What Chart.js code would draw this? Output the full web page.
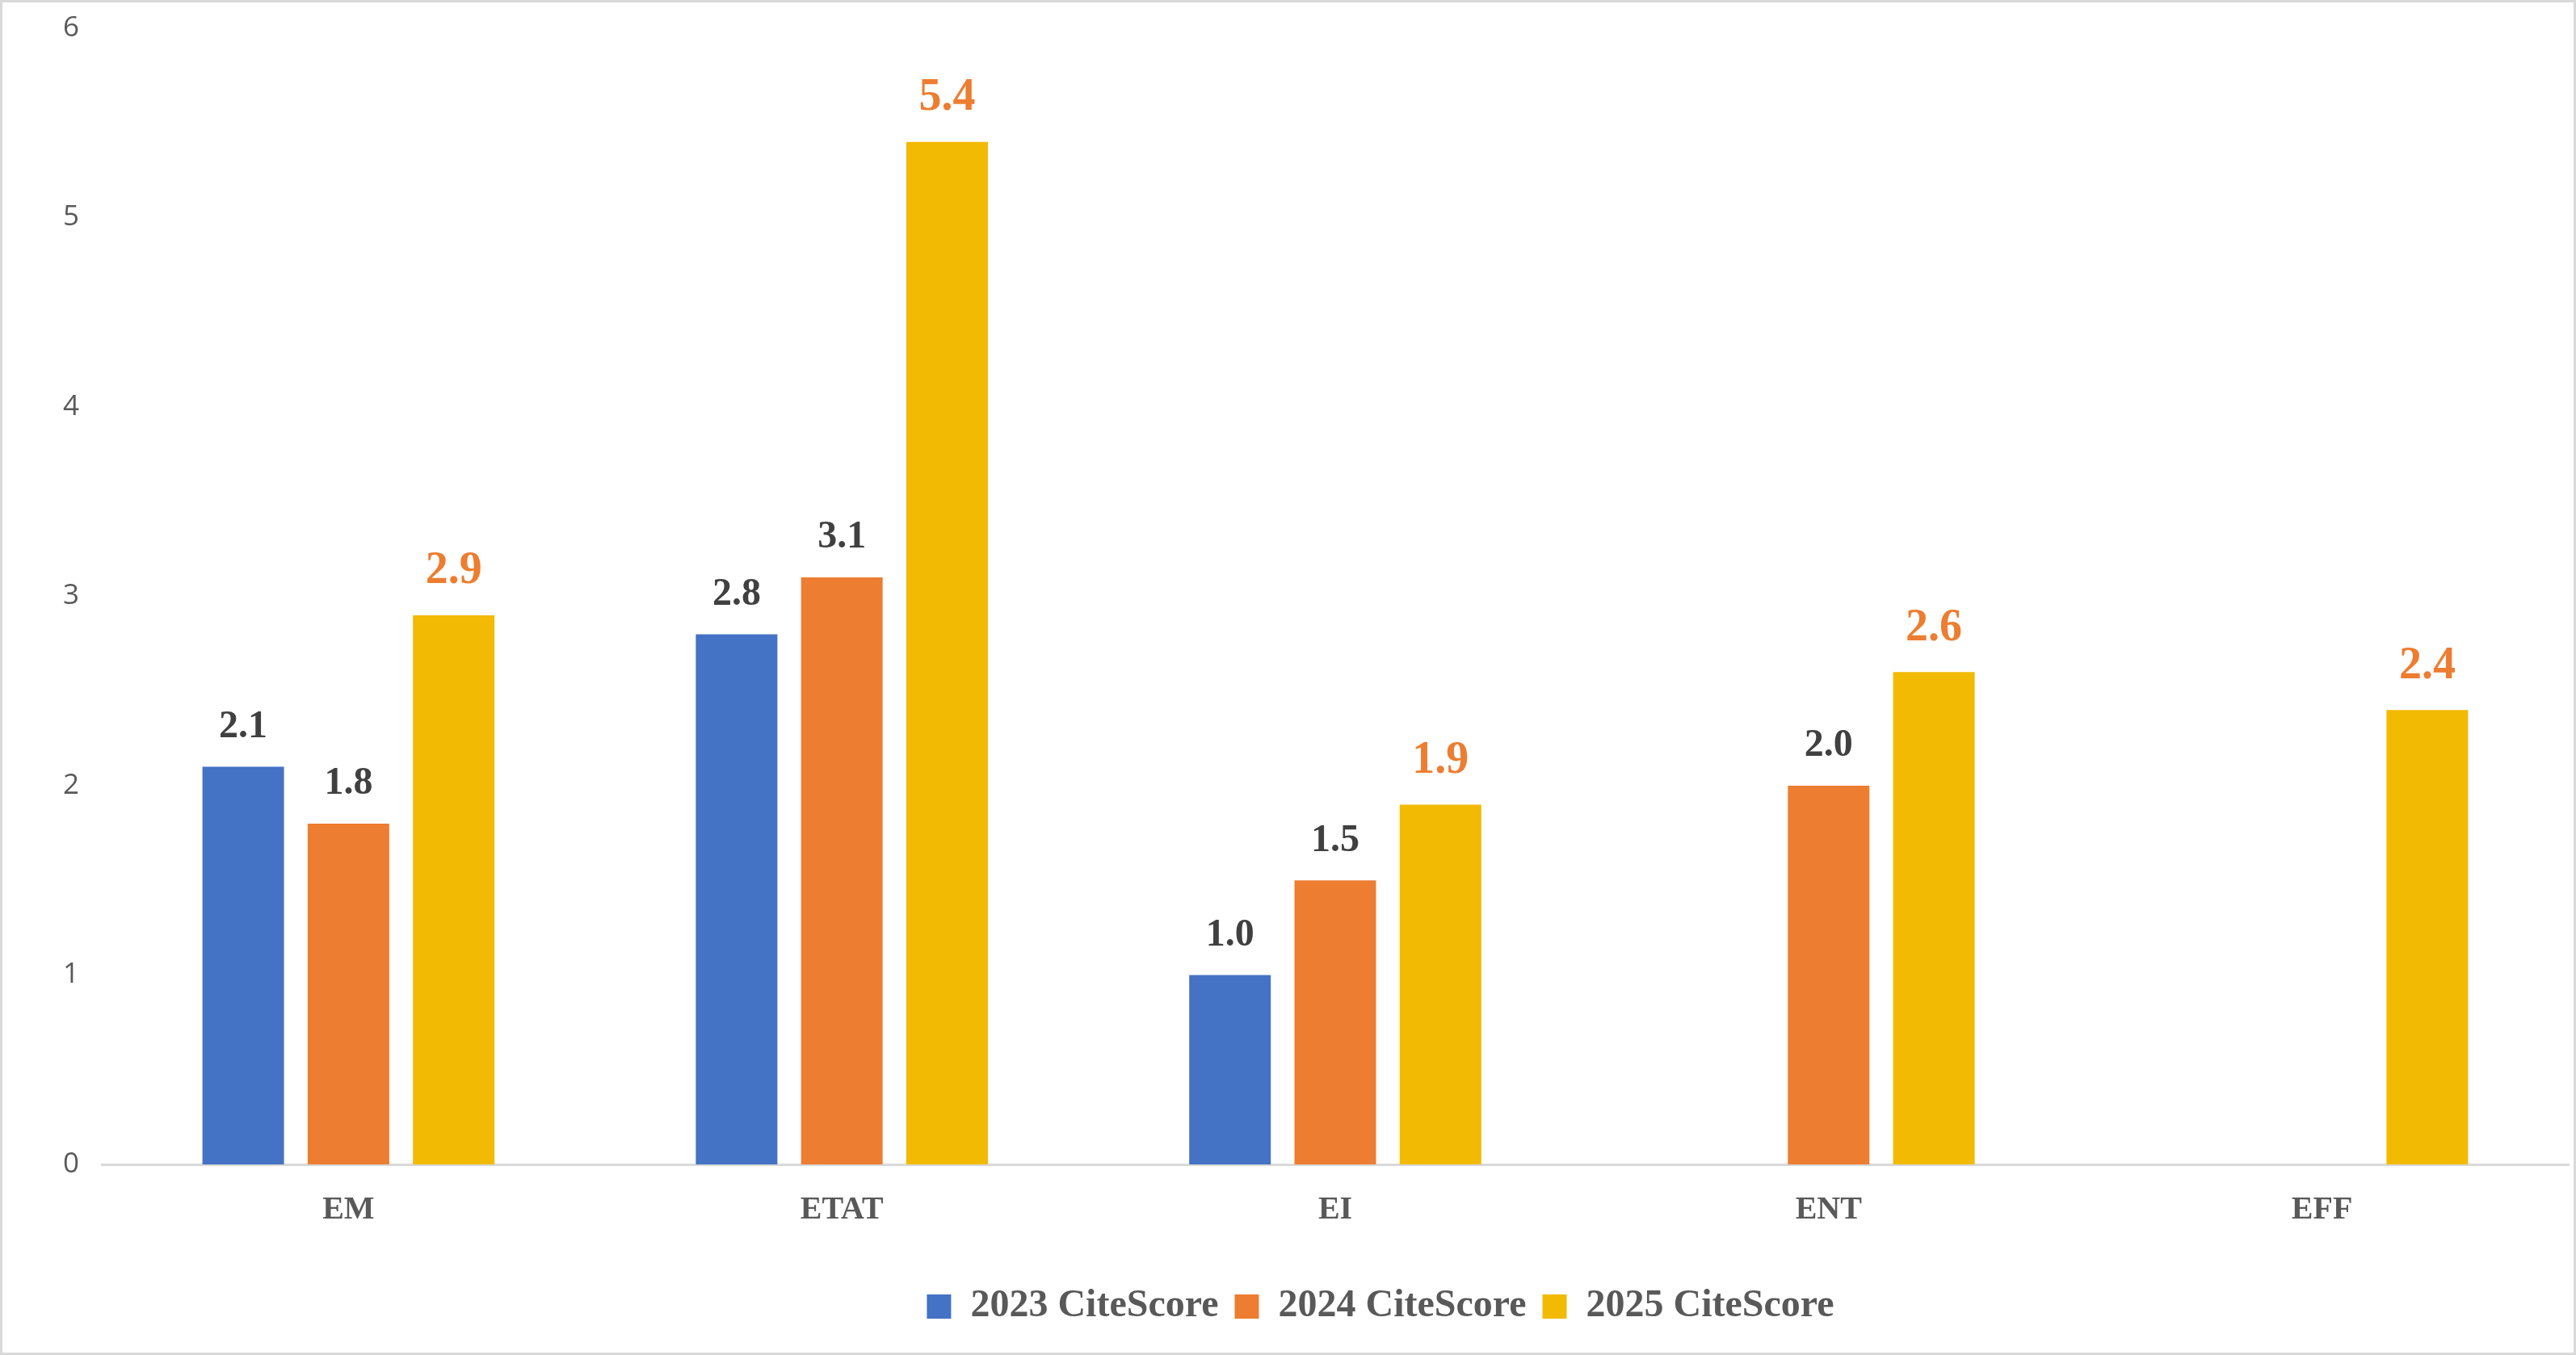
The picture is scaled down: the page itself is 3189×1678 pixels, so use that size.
<!DOCTYPE html>
<html>
<head>
<meta charset="utf-8">
<script src="https://cdn.jsdelivr.net/npm/chart.js@4.4.1/dist/chart.umd.min.js"></script>
<style>
    html, body { margin: 0; padding: 0; background: #ffffff; }
    #chartCite { display: block; }
</style>
</head>
<body>
<canvas id="chartCite" width="3189" height="1678"></canvas>
<script>
const categorias = ['EM', 'ETAT', 'EI', 'ENT', 'EFF'];
const series = ['2023 CiteScore', '2024 CiteScore', '2025 CiteScore'];
const valores2023 = [2.1, 2.8, 1.0, null, null];
const valores2024 = [1.8, 3.1, 1.5, 2.0, null];
const valores2025 = [2.9, 5.4, 1.9, 2.6, 2.4];
const ticksY = [0, 1, 2, 3, 4, 5, 6];

const cores = [
    '#4472C4', // 2023 - azul
    '#ED7D31', // 2024 - laranja
    '#F2BA02'  // 2025 - amarelo
];

const fonteSerif = '"Liberation Serif", "DejaVu Serif", serif';
const corTexto = '#595959';

// fundo branco + moldura cinza
const pluginMoldura = {
    id: 'moldura',
    beforeDraw(chart) {
        const ctx = chart.ctx;
        ctx.save();
        ctx.fillStyle = '#ffffff';
        ctx.fillRect(0, 0, chart.width, chart.height);
        ctx.strokeStyle = '#d9d9d9';
        ctx.lineWidth = 3;
        ctx.strokeRect(1.5, 1.5, chart.width - 3, chart.height - 3);
        ctx.restore();
    }
};

// rotulos de valor acima das barras
const pluginRotulos = {
    id: 'rotulos',
    afterDatasetsDraw(chart) {
        const ctx = chart.ctx;
        ctx.save();
        ctx.textAlign = 'center';
        ctx.textBaseline = 'middle';
        chart.data.datasets.forEach((ds, i) => {
            const meta = chart.getDatasetMeta(i);
            const destaque = i === 2;
            ctx.font = 'bold ' + (destaque ? 56 : 48) + 'px ' + fonteSerif;
            ctx.fillStyle = destaque ? '#ED7D31' : '#404040';
            meta.data.forEach((bar, j) => {
                const v = ds.data[j];
                if (v === null || v === undefined) return;
                ctx.fillText(v.toFixed(1), bar.x, bar.y - (destaque ? 54 : 49));
            });
        });
        ctx.restore();
    }
};

// legenda centrada como no original
const pluginLegenda = {
    id: 'legendaPos',
    afterLayout(chart) {
        const lg = chart.legend;
        if (!lg) return;
        const dx = 1709 - (lg.left + lg.right) / 2;
        lg.left += dx;
        lg.right += dx;
    }
};

const ctx = document.getElementById('chartCite');

new Chart(ctx, {
    type: 'bar',
    data: {
        labels: categorias,
        datasets: [valores2023, valores2024, valores2025].map((vals, i) => ({
            label: series[i],
            data: vals,
            backgroundColor: cores[i],
            borderWidth: 0,
            categoryPercentage: 0.64,
            barPercentage: 0.775
        }))
    },
    options: {
        responsive: false,
        animation: false,
        devicePixelRatio: 1,
        layout: {
            padding: { top: 35, right: 9, bottom: 26, left: 0 }
        },
        scales: {
            x: {
                grid: { display: false, drawTicks: false },
                border: { display: true, color: '#d9d9d9', width: 3 },
                ticks: {
                    color: corTexto,
                    padding: 33,
                    font: { family: fonteSerif, size: 40, weight: 'bold' }
                },
                afterFit(scale) { scale.height = 132; }
            },
            y: {
                min: 0,
                max: 6,
                afterBuildTicks(scale) {
                    scale.ticks = ticksY.map(v => ({ value: v }));
                },
                grid: { display: false, drawTicks: false },
                border: { display: false },
                ticks: {
                    color: corTexto,
                    padding: 28,
                    font: { family: '"Open Sans", sans-serif', size: 35 }
                },
                afterFit(scale) {
                    scale.width = 126;
                    scale.paddingTop = 0;
                    scale.paddingBottom = 0;
                }
            }
        },
        plugins: {
            legend: {
                position: 'bottom',
                labels: {
                    color: corTexto,
                    boxWidth: 30,
                    boxHeight: 30,
                    padding: 20,
                    font: { family: fonteSerif, size: 48, weight: 'bold' }
                }
            },
            tooltip: { enabled: false }
        }
    },
    plugins: [pluginMoldura, pluginRotulos, pluginLegenda]
});
</script>
</body>
</html>
